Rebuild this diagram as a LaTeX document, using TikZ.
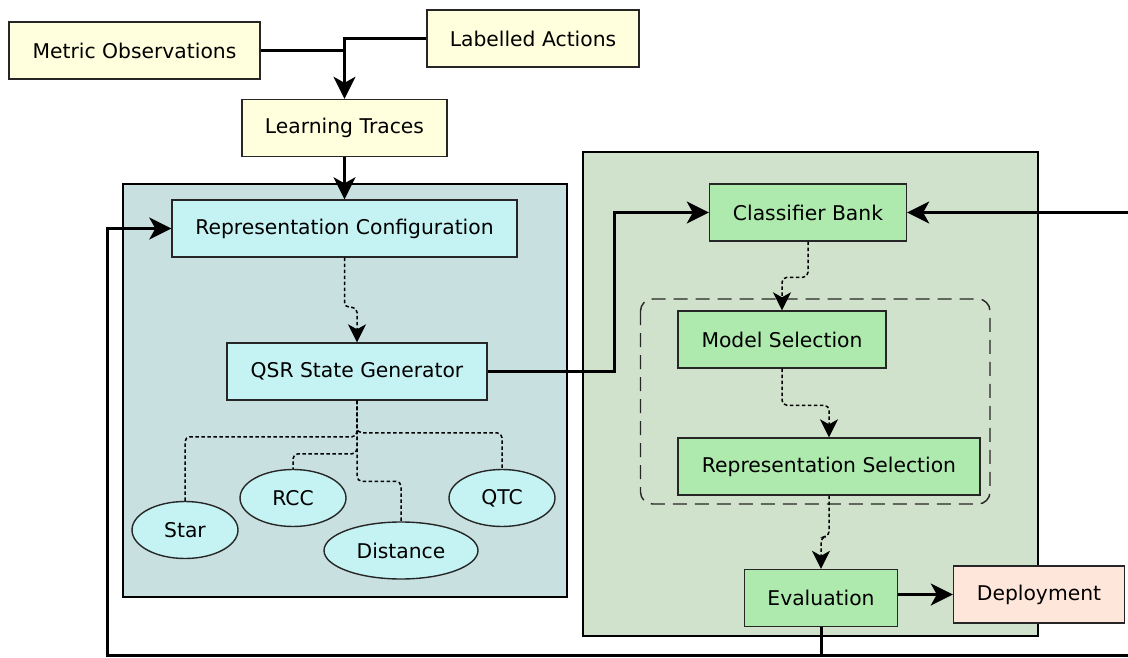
\documentclass[tikz,border=0pt]{standalone}
\usepackage{fontspec}
\setmainfont{DejaVu Sans}
\usetikzlibrary{arrows.meta,shapes.geometric}
\definecolor{inputfill}{RGB}{255,255,221}
\definecolor{qsrback}{RGB}{200,224,224}
\definecolor{qsrfill}{RGB}{197,243,243}
\definecolor{learnback}{RGB}{208,226,203}
\definecolor{learnfill}{RGB}{174,234,174}
\definecolor{deployfill}{RGB}{255,230,218}
\begin{document}
\begin{tikzpicture}[x=1pt, y=-1pt,
    box/.style={draw=black!85, line width=1.4pt, minimum height=57pt, inner sep=0pt, font=\fontsize{20.3}{24}\selectfont},
    inbox/.style={box, fill=inputfill},
    qsrbox/.style={box, fill=qsrfill},
    qsrleaf/.style={box, ellipse, fill=qsrfill},
    learnbox/.style={box, fill=learnfill},
    link/.style={line width=3pt},
    flow/.style={link, -{Stealth[length=22pt, width=22pt, inset=6pt]}},
    dots/.style={line width=1.5pt, dash pattern=on 3.5pt off 2.5pt, rounded corners=5pt},
    dotflow/.style={dots, -{Stealth[length=18pt, width=18pt, inset=5pt]}}]
    \useasboundingbox (0,0) rectangle (1128,658);

    \draw[line width=1.4pt, fill=qsrback] (123,184) rectangle (567,597);
    \draw[line width=1.4pt, fill=learnback] (583,152) rectangle (1038,636);
    \draw[line width=1.4pt, draw=black!85, dash pattern=on 14pt off 8pt, rounded corners=12pt] (640.5,299) rectangle (990,504);

    \node[inbox, minimum width=251pt] (MO) at (134.5,50.5) {Metric Observations};
    \node[inbox, minimum width=212pt] (LA) at (533,38.5) {Labelled Actions};
    \node[inbox, minimum width=205pt] (LT) at (344.5,128) {Learning Traces};

    \node[qsrbox, minimum width=345pt] (RC) at (344.5,228.5) {Representation Configuration};
    \node[qsrbox, minimum width=260pt] (QSR) at (357,371.5) {QSR State Generator};
    \node[qsrleaf, minimum width=106pt] (Star) at (185,530) {Star};
    \node[qsrleaf, minimum width=106pt] (RCC) at (293,498) {RCC};
    \node[qsrleaf, minimum width=154pt] (Dist) at (401,550.5) {Distance};
    \node[qsrleaf, minimum width=106pt] (QTC) at (502,498) {QTC};

    \node[learnbox, minimum width=197pt] (CB) at (808,212.5) {Classifier Bank};
    \node[learnbox, minimum width=208pt] (MS) at (782,339.5) {Model Selection};
    \node[learnbox, minimum width=302pt] (RS) at (829,466.5) {Representation Selection};
    \node[learnbox, minimum width=153pt] (Eval) at (821,598) {Evaluation};
    \node[box, fill=deployfill, minimum width=171pt] (Dep) at (1039,594.5) {Deployment};

    \coordinate (bl) at (107,655);
    \coordinate (br) at (1130,655);
    \coordinate (tr) at (1130,212.5);

    \draw[link] (MO.east) -- (MO.east -| LT.north);
    \draw[flow] (LA.west) -| (LT.north);
    \draw[flow] (LT.south) -- (RC.north);
    \draw[dotflow] (RC.south) |- ([yshift=35pt]QSR.north) -- (QSR.north);
    \draw[dots] (QSR.south) |- ([yshift=64pt]Star.north) -- (Star.north);
    \draw[dots] (QSR.south) |- ([yshift=15pt]RCC.north) -- (RCC.north);
    \draw[dots] (QSR.south) |- ([yshift=40pt]Dist.north) -- (Dist.north);
    \draw[dots] (QSR.south) |- ([yshift=36pt]QTC.north) -- (QTC.north);
    \draw[flow] (QSR.east) -- ++(127,0) |- (CB.west);
    \draw[flow] (tr) -- (CB.east);
    \draw[dotflow] (CB.south) |- ([yshift=33pt]MS.north) -- (MS.north);
    \draw[dotflow] (MS.south) |- ([yshift=32pt]RS.north) -- (RS.north);
    \draw[dotflow] (RS.south) |- ([yshift=32pt]Eval.north) -- (Eval.north);
    \draw[flow] (Eval.east |- Dep.west) -- (Dep.west);
    \draw[flow] (Eval.south) |- (bl) |- (RC.west);
    \draw[link] (Eval.south |- br) -- (br);
\end{tikzpicture}
\end{document}
